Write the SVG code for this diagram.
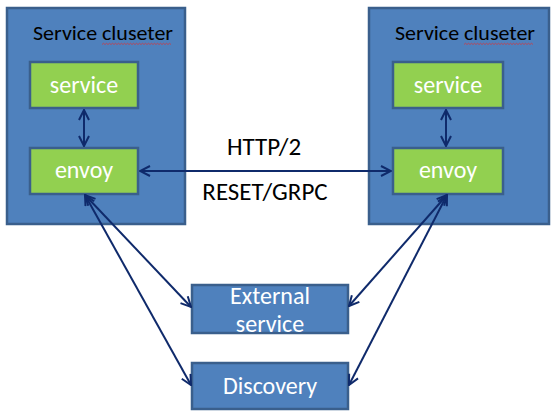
<svg xmlns="http://www.w3.org/2000/svg" width="559" height="418" viewBox="0 0 559 418">
<style>
.cluster{fill:#4F81BD;stroke:#3A5F8C;stroke-width:2.5}
.green{fill:#92D050;stroke:#3A5F8C;stroke-width:2.5}
.ext{fill:#4F81BD;stroke:#3A5F8C;stroke-width:2.5}
.t{font-family:Calibri,Carlito,"Liberation Sans","DejaVu Sans",sans-serif}
.wt{fill:#fff;font-size:24px;text-anchor:middle}
.bt{fill:#000;font-size:20px}
.lt{fill:#000;font-size:25px;text-anchor:middle}
.sq{fill:none;stroke:#E03030;stroke-width:0.7}
.conn{stroke:#0F2A6B;stroke-width:2;fill:none;marker-start:url(#ah);marker-end:url(#ah)}
</style>
<defs>
<marker id="ah" viewBox="0 0 12 12" refX="11" refY="6" markerWidth="12" markerHeight="12" markerUnits="userSpaceOnUse" orient="auto-start-reverse">
<path d="M1,1 L11,6 L1,11" fill="none" stroke="#0F2A6B" stroke-width="2"/>
</marker>
<path id="squig" d="M0,0 l1.5,-1.2 l1.5,1.2 l1.5,-1.2 l1.5,1.2 l1.5,-1.2 l1.5,1.2 l1.5,-1.2 l1.5,1.2 l1.5,-1.2 l1.5,1.2 l1.5,-1.2 l1.5,1.2 l1.5,-1.2 l1.5,1.2 l1.5,-1.2 l1.5,1.2 l1.5,-1.2 l1.5,1.2 l1.5,-1.2 l1.5,1.2 l1.5,-1.2 l1.5,1.2 l1.5,-1.2 l1.5,1.2 l1.5,-1.2 l1.5,1.2 l1.5,-1.2 l1.5,1.2 l1.5,-1.2 l1.5,1.2 l1.5,-1.2 l1.5,1.2 l1.5,-1.2 l1.5,1.2 l1.5,-1.2 l1.5,1.2 l1.5,-1.2 l1.5,1.2 l1.5,-1.2 l1.5,1.2 l1.5,-1.2 l1.5,1.2 l1.5,-1.2 l1.5,1.2 l1.5,-1.2 l1.5,1.2"/>
</defs>
<rect width="559" height="418" fill="#fff"/>
<g id="cluster-left">
<rect class="cluster" x="7" y="8" width="178" height="216"/>
<text class="t bt" x="33" y="40" textLength="140" lengthAdjust="spacingAndGlyphs">Service cluseter</text>
<use href="#squig" class="sq" x="102" y="44.5"/>
</g>
<g id="cluster-right">
<rect class="cluster" x="369" y="8" width="180" height="216"/>
<text class="t bt" x="395" y="40" textLength="140" lengthAdjust="spacingAndGlyphs">Service cluseter</text>
<use href="#squig" class="sq" x="464" y="44.5"/>
</g>
<g id="service-left">
<rect class="green" x="30" y="62" width="108" height="46"/>
<text class="t wt" x="84" y="93">service</text>
</g>
<g id="envoy-left">
<rect class="green" x="30" y="148" width="108" height="46"/>
<text class="t wt" x="84" y="178">envoy</text>
</g>
<g id="service-right">
<rect class="green" x="393" y="62" width="110" height="46"/>
<text class="t wt" x="448" y="93">service</text>
</g>
<g id="envoy-right">
<rect class="green" x="393" y="148" width="110" height="46"/>
<text class="t wt" x="448" y="178">envoy</text>
</g>
<g id="external-service">
<rect class="ext" x="192" y="285" width="156" height="48"/>
<text class="t wt" x="270" y="304">External</text>
<text class="t wt" x="270" y="332">service</text>
</g>
<g id="discovery">
<rect class="ext" x="192" y="363" width="156" height="46"/>
<text class="t wt" x="270" y="394">Discovery</text>
</g>
<g id="connectors">
<line class="conn" x1="84" y1="110" x2="84" y2="146"/>
<line class="conn" x1="446" y1="110" x2="446" y2="146"/>
<line class="conn" x1="140" y1="171" x2="391" y2="171"/>
<line class="conn" x1="85" y1="195" x2="191" y2="307"/>
<line class="conn" x1="85" y1="195" x2="191" y2="385"/>
<line class="conn" x1="447" y1="195" x2="349" y2="306"/>
<line class="conn" x1="447" y1="195" x2="349" y2="385"/>
</g>
<text class="t lt" x="264" y="155">HTTP/2</text>
<text class="t lt" x="265" y="200">RESET/GRPC</text>
</svg>
